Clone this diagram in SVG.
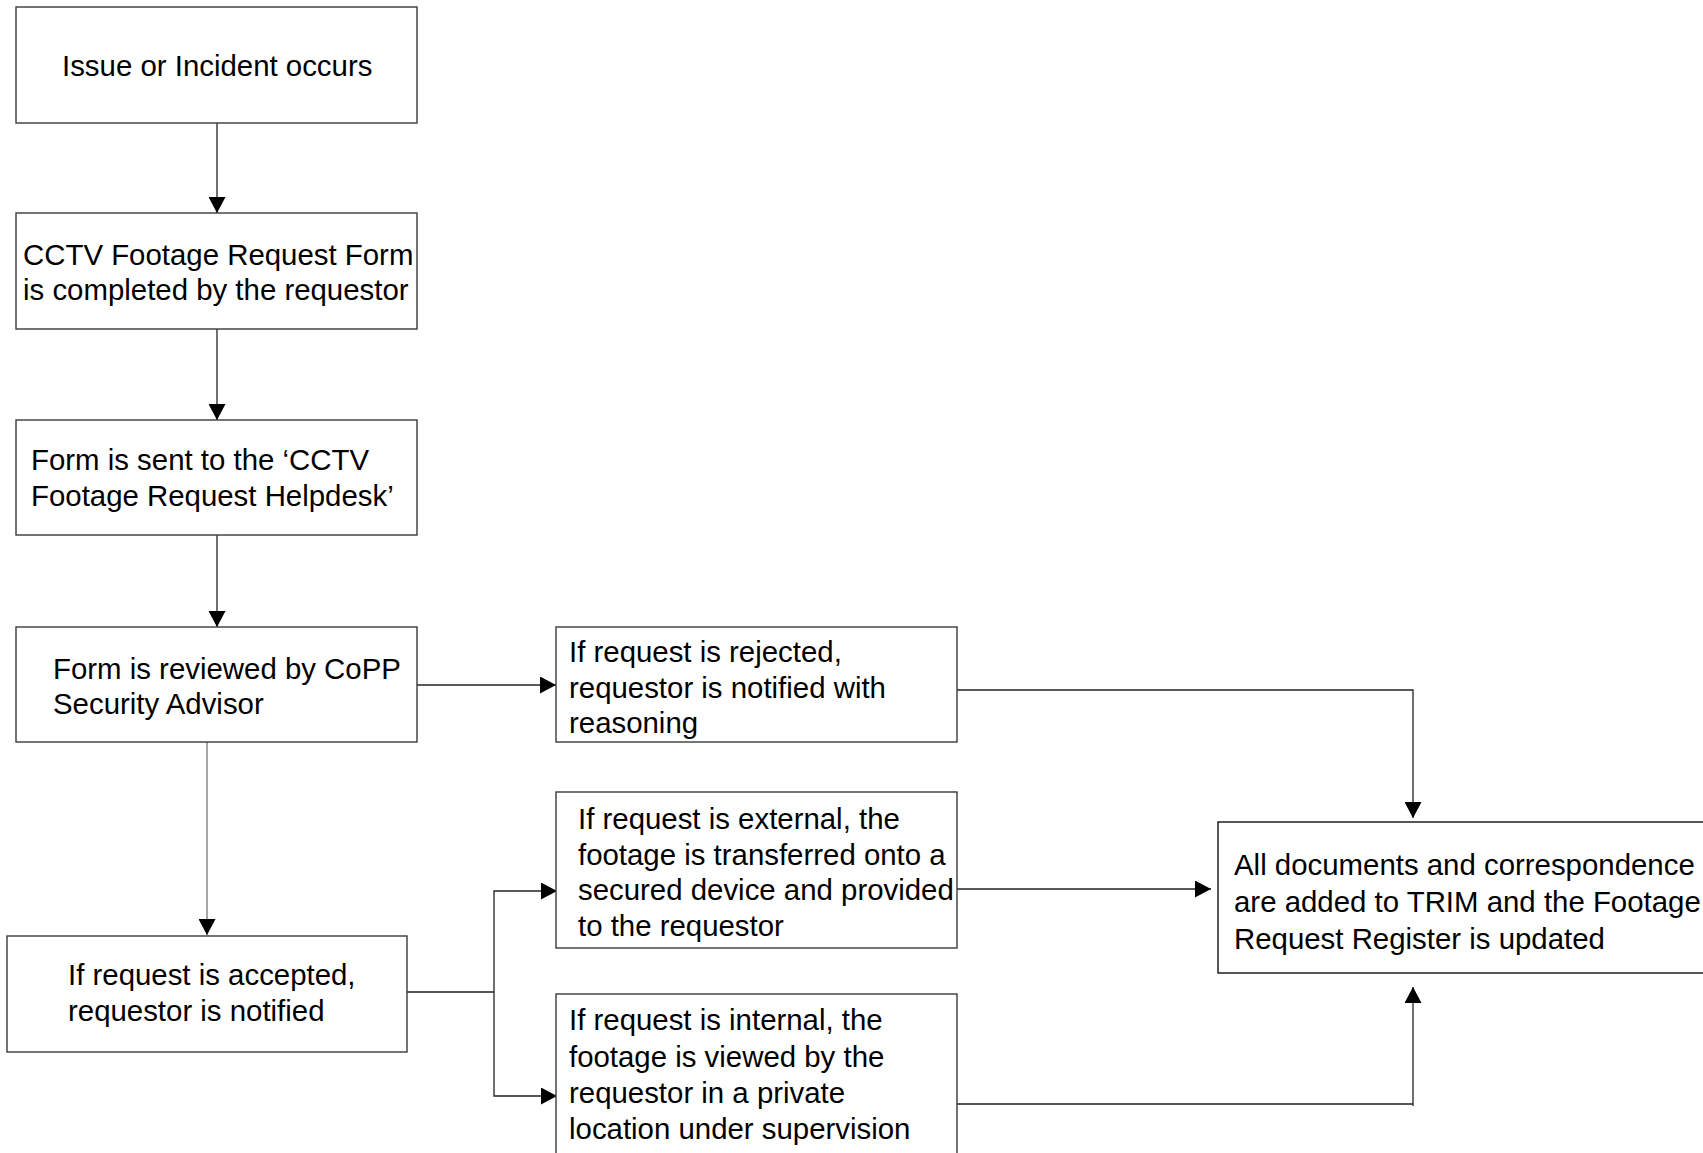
<svg xmlns="http://www.w3.org/2000/svg" width="1703" height="1153" viewBox="0 0 1703 1153">
<style>
.box{fill:#fff;stroke:#3a3a3a;stroke-width:1.4}
.t{font-family:"Liberation Sans",Arial,sans-serif;font-size:29.4px;fill:#000}
.tf{font-family:"Liberation Sans",Arial,sans-serif;font-size:29.4px;fill:#000}
.c{fill:none;stroke:#222;stroke-width:1.3}
.cg{fill:none;stroke:#777;stroke-width:1.3}
</style>
<defs>
<marker id="arr" markerUnits="userSpaceOnUse" markerWidth="16" markerHeight="17" refX="16" refY="8.5" orient="auto">
<path d="M0,0 L16,8.5 L0,17 Z" fill="#000"/>
</marker>
</defs>
<rect width="1703" height="1153" fill="#fff"/>
<g id="connectors">
<path class="c" d="M217,123 V213" marker-end="url(#arr)"/>
<path class="c" d="M217,329 V420" marker-end="url(#arr)"/>
<path class="c" d="M217,535 V627" marker-end="url(#arr)"/>
<path class="c" d="M417,685 H556" marker-end="url(#arr)"/>
<path class="cg" d="M207,742 V935" marker-end="url(#arr)"/>
<path class="c" d="M957,690 H1413 V818" marker-end="url(#arr)"/>
<path class="c" d="M407,992 H494"/>
<path class="c" d="M494,992 V891 H557" marker-end="url(#arr)"/>
<path class="c" d="M494,992 V1096 H557" marker-end="url(#arr)"/>
<path class="c" d="M957,889 H1211" marker-end="url(#arr)"/>
<path class="c" d="M957,1104 H1413"/>
<path class="c" d="M1413,1106 V987" marker-end="url(#arr)"/>
</g>
<g id="n1">
<rect class="box" x="16" y="7" width="401" height="116"/>
<text class="t" x="62" y="76">Issue or Incident occurs</text>
</g>
<g id="n2">
<rect class="box" x="16" y="213" width="401" height="116"/>
<text class="t" x="23" y="265">CCTV Footage Request Form</text>
<text class="t" x="23" y="300">is completed by the requestor</text>
</g>
<g id="n3">
<rect class="box" x="16" y="420" width="401" height="115"/>
<text class="t" x="31" y="470">Form is sent to the ‘CCTV</text>
<text class="t" x="31" y="506">Footage Request Helpdesk’</text>
</g>
<g id="n4">
<rect class="box" x="16" y="627" width="401" height="115"/>
<text class="t" x="53" y="679">Form is reviewed by CoPP</text>
<text class="t" x="53" y="714">Security Advisor</text>
</g>
<g id="n5">
<rect class="box" x="7" y="936" width="400" height="116"/>
<text class="t" x="68" y="985">If request is accepted,</text>
<text class="t" x="68" y="1021">requestor is notified</text>
</g>
<g id="n6">
<rect class="box" x="556" y="627" width="401" height="115"/>
<text class="t" x="569" y="662">If request is rejected,</text>
<text class="t" x="569" y="698">requestor is notified with</text>
<text class="t" x="569" y="733">reasoning</text>
</g>
<g id="n7">
<rect class="box" x="556" y="792" width="401" height="156"/>
<text class="t" x="578" y="829">If request is external, the</text>
<text class="t" x="578" y="865">footage is transferred onto a</text>
<text class="t" x="578" y="900">secured device and provided</text>
<text class="t" x="578" y="936">to the requestor</text>
</g>
<g id="n8">
<rect class="box" x="556" y="994" width="401" height="200"/>
<text class="t" x="569" y="1030">If request is internal, the</text>
<text class="t" x="569" y="1067">footage is viewed by the</text>
<text class="t" x="569" y="1103">requestor in a private</text>
<text class="t" x="569" y="1139">location under supervision</text>
</g>
<g id="n9">
<rect class="box" x="1218" y="822" width="600" height="151" style="stroke:#111"/>
<text class="tf" x="1234" y="875">All documents and correspondence</text>
<text class="tf" x="1234" y="912">are added to TRIM and the Footage</text>
<text class="tf" x="1234" y="949">Request Register is updated</text>
</g>
</svg>
